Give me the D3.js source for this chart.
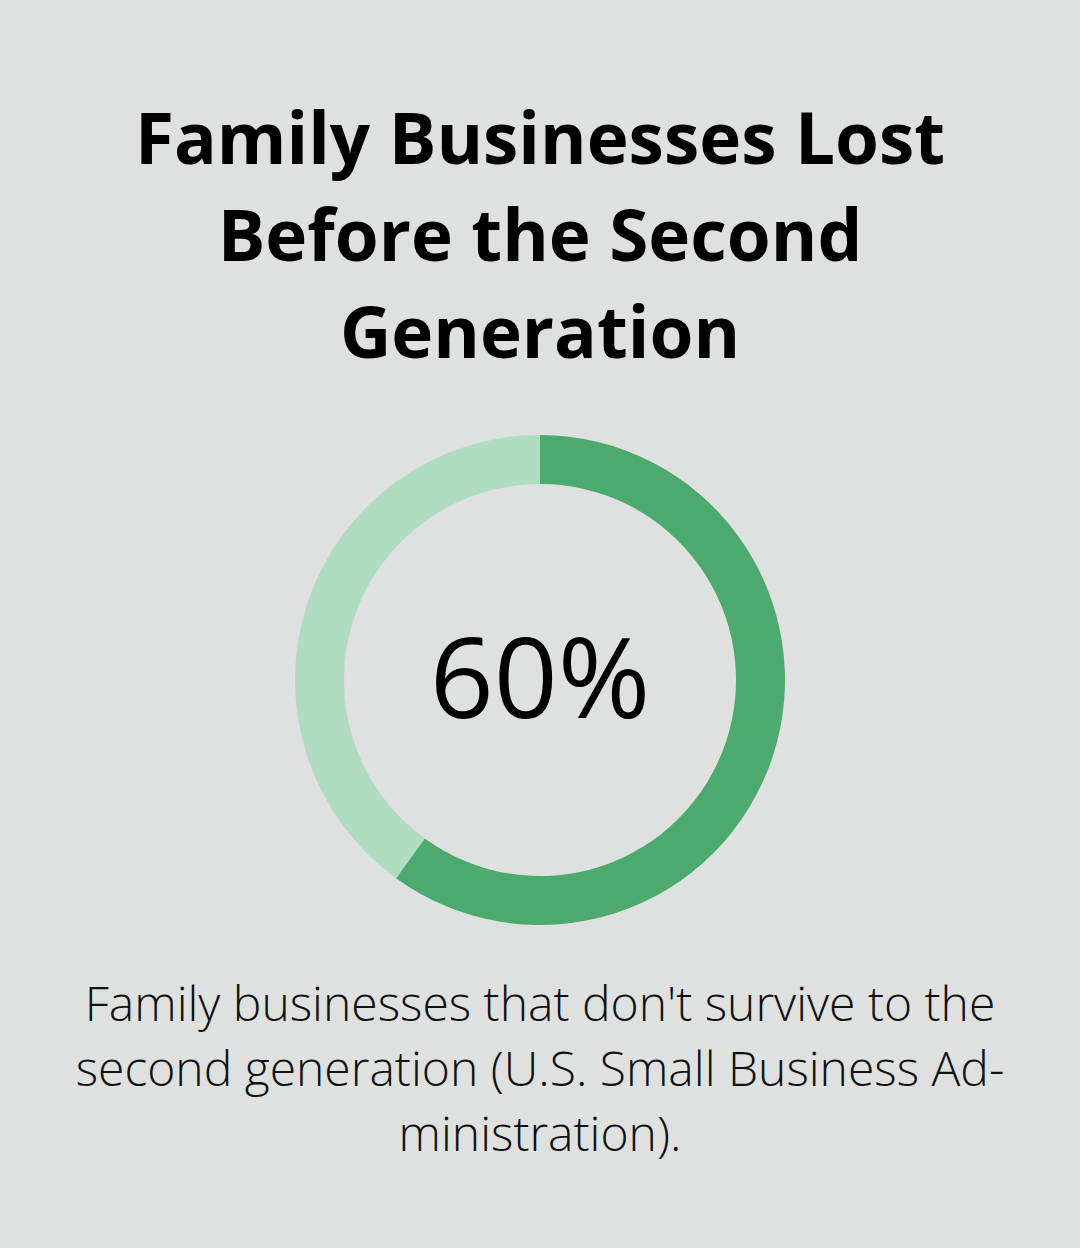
<!DOCTYPE html>
<html>
<head>
<meta charset="utf-8">
<script src="https://cdn.jsdelivr.net/npm/d3@7"></script>
<style>
  body { margin: 0; background: #dfe1e0; }
  svg { display: block; }
</style>
</head>
<body>
<svg id="chart" width="1080" height="1248"></svg>
<script>
const titleLines = ["Family Businesses Lost", "Before the Second", "Generation"];
const noteLines = ["Family businesses that don't survive to the",
                   "second generation (U.S. Small Business Ad-",
                   "ministration)."];
const labels = ["Lost", "Survived"];
const values = [60, 40];
const color = ['#4daa6f', '#b0dcc2'];

const svg = d3.select('#chart');
svg.append('rect').attr('width', 1080).attr('height', 1248).attr('fill', '#dfe1e0');

// title
svg.append('g').selectAll('text')
  .data(titleLines)
  .enter().append('text')
  .attr('x', 540)
  .attr('y', (d, i) => 164 + i * 97)
  .attr('text-anchor', 'middle')
  .style('font-family', 'Open Sans')
  .style('font-weight', 700)
  .style('font-size', '71px')
  .attr('fill', '#000')
  .text(d => d);

// donut
const pie = d3.pie().sort(null).value(d => d);
const arc = d3.arc().innerRadius(196).outerRadius(245);
const g = svg.append('g').attr('transform', 'translate(540,680)');
g.selectAll('path')
  .data(pie(values))
  .enter().append('path')
  .attr('d', arc)
  .style('fill', (d, i) => color[i]);

g.append('text')
  .attr('y', 38)
  .attr('text-anchor', 'middle')
  .style('font-family', 'Open Sans')
  .style('font-weight', 500)
  .style('font-size', '112px')
  .attr('fill', '#000')
  .text(values[0] + '%');

// note
svg.append('g').selectAll('text')
  .data(noteLines)
  .enter().append('text')
  .attr('x', 540)
  .attr('y', (d, i) => 1021 + i * 65)
  .attr('text-anchor', 'middle')
  .style('font-family', 'Open Sans')
  .style('font-weight', 300)
  .style('font-size', '48px')
  .attr('fill', '#111')
  .text(d => d);
</script>
</body>
</html>
